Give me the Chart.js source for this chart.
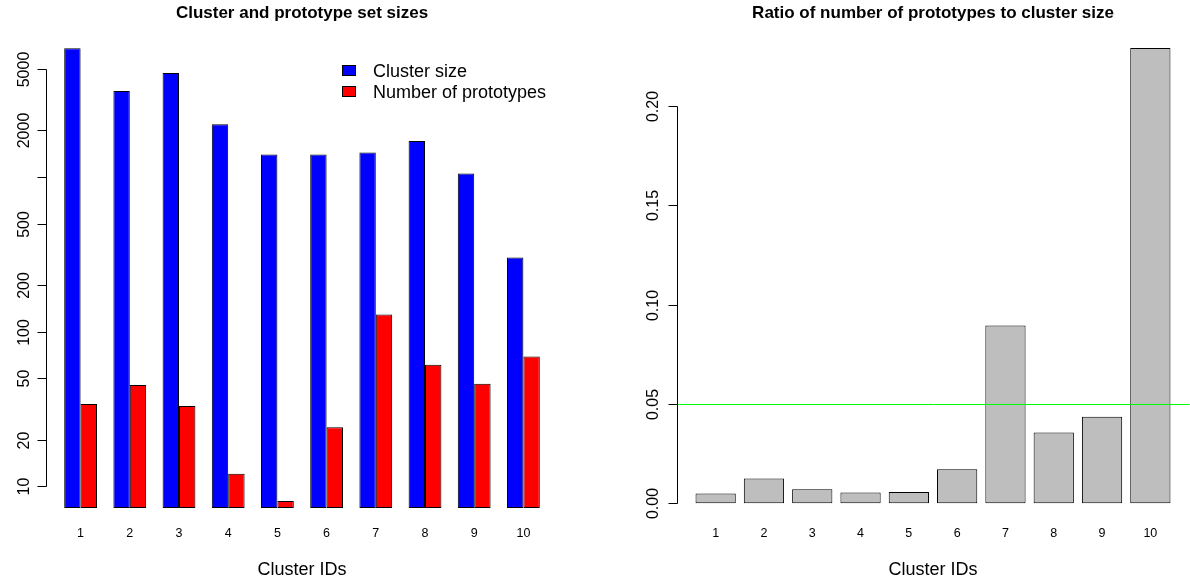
<!DOCTYPE html>
<html>
<head>
<meta charset="utf-8">
<script src="https://cdn.jsdelivr.net/npm/chart.js@4.4.1/dist/chart.umd.min.js"></script>
<style>
  html, body { margin: 0; padding: 0; background: #fff; }
  #wrap { position: relative; width: 1190px; height: 586px; }
  canvas { position: absolute; top: 0; }
</style>
</head>
<body>
<div id="wrap">
  <canvas id="left" width="595" height="586" style="left:0"></canvas>
  <canvas id="right" width="595" height="586" style="left:595px"></canvas>
</div>
<script>
// values
const clusterIds = ['1', '2', '3', '4', '5', '6', '7', '8', '9', '10'];
const clusterSizes = [6800, 3600, 4700, 2190, 1400, 1400, 1440, 1710, 1055, 301];
const prototypeCounts = [34, 45, 33, 12, 8, 24, 129, 61, 46, 69];
const sizeTicks = [10, 20, 50, 100, 200, 500, 1000, 2000, 5000];
const sizeTickLabels = ['10', '20', '50', '100', '200', '500', '', '2000', '5000'];
const ratioTicks = [0, 0.05, 0.1, 0.15, 0.2];
const ratioTickLabels = ['0.00', '0.05', '0.10', '0.15', '0.20'];
const ratioThreshold = 0.05;

const ratios = prototypeCounts.map((p, i) => p / clusterSizes[i]);
// R barplot starts log bars at 0.9 * smallest height
const logBase = 0.9 * Math.min(...clusterSizes, ...prototypeCounts);

const FONT = '"Liberation Sans", Arial, Helvetica, sans-serif';

// R-like axes, labels and titles drawn over Chart.js scales
function rStyle(cfg) {
  return {
    id: 'rStyle',
    afterDraw(chart) {
      const ctx = chart.ctx;
      const xs = chart.scales.x, ys = chart.scales.y, area = chart.chartArea;
      const axisX = Math.round(area.left - cfg.axisGap) + 0.5;
      ctx.save();
      ctx.strokeStyle = '#000';
      ctx.fillStyle = '#000';
      ctx.lineWidth = 1;

      if (cfg.hline !== undefined) {
        const hy = Math.round(ys.getPixelForValue(cfg.hline)) + 0.5;
        ctx.save();
        ctx.strokeStyle = '#00ff00';
        ctx.beginPath();
        ctx.moveTo(axisX, hy);
        ctx.lineTo(area.right + cfg.axisGap, hy);
        ctx.stroke();
        ctx.restore();
      }

      // y axis
      const yTop = Math.round(ys.getPixelForValue(cfg.ticks[cfg.ticks.length - 1])) + 0.5;
      const yBot = Math.round(ys.getPixelForValue(cfg.ticks[0])) + 0.5;
      ctx.beginPath();
      ctx.moveTo(axisX, yTop);
      ctx.lineTo(axisX, yBot);
      ctx.stroke();
      ctx.font = '16px ' + FONT;
      ctx.textAlign = 'center';
      ctx.textBaseline = 'alphabetic';
      cfg.ticks.forEach((t, i) => {
        const py = Math.round(ys.getPixelForValue(t)) + 0.5;
        ctx.beginPath();
        ctx.moveTo(axisX - 9, py);
        ctx.lineTo(axisX, py);
        ctx.stroke();
        if (cfg.tickLabels[i]) {
          ctx.save();
          ctx.translate(axisX - cfg.labelGap, py);
          ctx.rotate(-Math.PI / 2);
          ctx.fillText(cfg.tickLabels[i], 0, 0);
          ctx.restore();
        }
      });

      // category labels
      ctx.font = '12.5px ' + FONT;
      chart.data.labels.forEach((lab, i) => {
        ctx.fillText(lab, xs.getPixelForValue(i), 537);
      });

      const mid = (area.left + area.right) / 2;
      ctx.font = '18px ' + FONT;
      ctx.fillText('Cluster IDs', mid, 575);
      ctx.font = 'bold 17px ' + FONT;
      ctx.fillText(cfg.title, mid, 18);

      if (cfg.legend) {
        ctx.textAlign = 'left';
        ctx.font = '18px ' + FONT;
        chart.data.datasets.forEach((ds, i) => {
          const top = 65 + i * 21;
          ctx.fillStyle = ds.backgroundColor;
          ctx.fillRect(342, top, 14, 11);
          ctx.strokeRect(342.5, top + 0.5, 13, 10);
          ctx.fillStyle = '#000';
          ctx.fillText(ds.label, 373, top + 12);
        });
      }
      ctx.restore();
    }
  };
}

const common = {
  responsive: false,
  animation: false,
  devicePixelRatio: 1,
  plugins: { legend: { display: false }, tooltip: { enabled: false }, title: { display: false } }
};

new Chart(document.getElementById('left'), {
  type: 'bar',
  data: {
    labels: clusterIds,
    datasets: [
      { label: 'Cluster size', data: clusterSizes, backgroundColor: '#0000ff',
        borderColor: '#000', borderWidth: 1, borderSkipped: false, base: logBase },
      { label: 'Number of prototypes', data: prototypeCounts, backgroundColor: '#ff0000',
        borderColor: '#000', borderWidth: 1, borderSkipped: false, base: logBase }
    ]
  },
  options: {
    ...common,
    layout: { padding: { left: 56, right: 47, top: 30, bottom: 66 } },
    datasets: { bar: { categoryPercentage: 2 / 3, barPercentage: 1 } },
    scales: {
      x: { display: false },
      y: { type: 'logarithmic', display: false, min: 6.03, max: 8936 }
    }
  },
  plugins: [rStyle({ axisGap: 10, labelGap: 18, ticks: sizeTicks, tickLabels: sizeTickLabels,
    title: 'Cluster and prototype set sizes', legend: true })]
});

new Chart(document.getElementById('right'), {
  type: 'bar',
  data: {
    labels: clusterIds,
    datasets: [
      { label: 'Ratio', data: ratios, backgroundColor: '#bebebe',
        borderColor: '#000', borderWidth: 1, borderSkipped: false }
    ]
  },
  options: {
    ...common,
    layout: { padding: { left: 96.5, right: 15.5, top: 30, bottom: 66 } },
    datasets: { bar: { categoryPercentage: 1, barPercentage: 1 / 1.2 } },
    scales: {
      x: { display: false },
      y: { type: 'linear', display: false, min: -0.0084, max: 0.2383 }
    }
  },
  plugins: [rStyle({ axisGap: 15, labelGap: 20, ticks: ratioTicks, tickLabels: ratioTickLabels,
    title: 'Ratio of number of prototypes to cluster size', hline: ratioThreshold })]
});
</script>
</body>
</html>
